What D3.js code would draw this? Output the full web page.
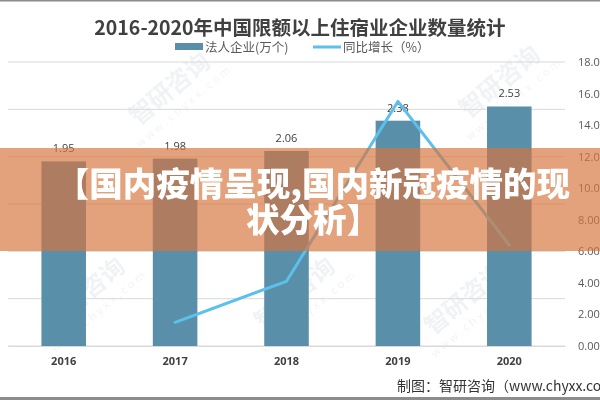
<!DOCTYPE html>
<html>
<head>
<meta charset="utf-8">
<script src="https://cdn.jsdelivr.net/npm/d3@7"></script>
<style>
html,body{margin:0;padding:0;background:#fff;}
svg{display:block;}
</style>
</head>
<body>
<svg id="chart" width="600" height="400"></svg>
<script>
const years = ["2016", "2017", "2018", "2019", "2020"];
const enterprises = [1.95, 1.98, 2.06, 2.38, 2.53];
const growth = [null, 1.5, 4.1, 15.5, 6.4];
const rightTicks = [0, 2, 4, 6, 8, 10, 12, 14, 16, 18];
const leftGrid = [0, 0.5, 1, 1.5, 2, 2.5, 3];
const titleText = "2016-2020年中国限额以上住宿业企业数量统计";
const legendLabels = ["法人企业(万个)", "同比增长（%）"];
const bannerLines = ["【国内疫情呈现,国内新冠疫情的现", "状分析】"];
const footerText = "制图：智研咨询（www.chyxx.com）";

const svg = d3.select("#chart");
const CJK = "'Noto Sans CJK SC','Noto Sans',sans-serif";
const NUM = "'Open Sans','Noto Sans',sans-serif";

svg.append("rect").attr("width", 600).attr("height", 400).attr("fill", "#fff");

const x = d3.scaleBand().domain(years).range([8, 565]).paddingInner(0.6).paddingOuter(0.3);
const yL = d3.scaleLinear().domain([0, 3]).range([346, 62]);
const yR = d3.scaleLinear().domain([0, 18]).range([346, 62]);

// faint watermarks
const wm = [[505, 88], [175, 95], [90, 300], [300, 300], [470, 305]];
const wmG = svg.append("g").attr("opacity", 0.07);
wm.forEach(([wx, wy]) => {
  const g = wmG.append("g").attr("transform", `translate(${wx},${wy}) rotate(-40)`);
  g.append("text").attr("font-family", CJK).attr("font-weight", 700).attr("font-size", 24)
    .attr("fill", "#1f4e79").attr("text-anchor", "middle").text("智研咨询");
  g.append("text").attr("y", 18).attr("font-family", NUM).attr("font-size", 11)
    .attr("fill", "#1f4e79").attr("text-anchor", "middle").attr("letter-spacing", 3).text("www.chyxx.com");
});

// gridlines
svg.append("g").selectAll("line").data(leftGrid).join("line")
  .attr("x1", 8).attr("x2", 565)
  .attr("y1", d => yL(d)).attr("y2", d => yL(d))
  .attr("stroke", "#d9d9d9").attr("stroke-width", 1);

// bars
svg.append("g").selectAll("rect").data(enterprises).join("rect")
  .attr("x", (d, i) => x(years[i]))
  .attr("width", x.bandwidth())
  .attr("y", d => yL(d))
  .attr("height", d => yL(0) - yL(d))
  .attr("fill", "#5a8faa");

// bar labels
svg.append("g").selectAll("text").data(enterprises).join("text")
  .attr("x", (d, i) => x(years[i]) + x.bandwidth() / 2)
  .attr("y", d => yL(d) - 9)
  .attr("text-anchor", "middle")
  .attr("font-family", NUM).attr("font-size", 11).attr("fill", "#404040")
  .text(d => d.toFixed(2));

// line
const line = d3.line()
  .defined(d => d != null)
  .x((d, i) => x(years[i]) + x.bandwidth() / 2)
  .y(d => yR(d));
svg.append("path").datum(growth)
  .attr("d", line)
  .attr("fill", "none").attr("stroke", "#5bc0eb").attr("stroke-width", 3)
  .attr("stroke-linejoin", "round").attr("stroke-linecap", "round");

// x axis
const xAxis = svg.append("g").attr("transform", "translate(0,346)")
  .call(d3.axisBottom(x).tickSize(0).tickPadding(11));
xAxis.select(".domain").attr("stroke", "#d9d9d9");
xAxis.selectAll("text").attr("font-family", NUM).attr("font-weight", 700)
  .attr("font-size", 11).attr("fill", "#404040");

// right axis
const rAxis = svg.append("g").attr("transform", "translate(572,0)")
  .call(d3.axisRight(yR).tickValues(rightTicks).tickSize(0).tickPadding(6).tickFormat(d3.format(".2f")));
rAxis.select(".domain").remove();
rAxis.selectAll("text").attr("font-family", NUM).attr("font-size", 11).attr("fill", "#595959");

// title
svg.append("text").attr("x", 300).attr("y", 35).attr("text-anchor", "middle")
  .attr("font-family", CJK).attr("font-weight", 700).attr("font-size", 19.5).attr("fill", "#404040")
  .text(titleText);

// legend
const lg = svg.append("g");
lg.append("rect").attr("x", 175).attr("y", 43).attr("width", 28).attr("height", 7).attr("fill", "#5a8faa");
lg.append("text").attr("x", 205).attr("y", 51.5).attr("font-family", CJK).attr("font-size", 12.5)
  .attr("fill", "#595959").text(legendLabels[0]);
lg.append("line").attr("x1", 313).attr("x2", 341).attr("y1", 47).attr("y2", 47)
  .attr("stroke", "#5bc0eb").attr("stroke-width", 3);
lg.append("text").attr("x", 343).attr("y", 51.5).attr("font-family", CJK).attr("font-size", 12.5)
  .attr("fill", "#595959").text(legendLabels[1]);

// footer
svg.append("text").attr("x", 397).attr("y", 391).attr("font-family", CJK).attr("font-size", 14)
  .attr("fill", "#333").text(footerText);

// frame lines
svg.append("line").attr("x1", 0).attr("x2", 600).attr("y1", 0.5).attr("y2", 0.5).attr("stroke", "#8c8c8c").attr("stroke-width", 2);
svg.append("line").attr("x1", 0).attr("x2", 600).attr("y1", 398.5).attr("y2", 398.5).attr("stroke", "#8c8c8c").attr("stroke-width", 3);

// banner overlay
svg.append("rect").attr("x", 0).attr("y", 148).attr("width", 600).attr("height", 103)
  .attr("fill", "rgb(214,116,62)").attr("fill-opacity", 0.68);
const bt = svg.append("text").attr("text-anchor", "middle")
  .attr("font-family", CJK).attr("font-weight", 900).attr("font-size", 33.5).attr("fill", "#fff");
bannerLines.forEach((t, i) => {
  bt.append("tspan").attr("x", 313).attr("y", 196 + i * 36).text(t);
});
</script>
</body>
</html>
